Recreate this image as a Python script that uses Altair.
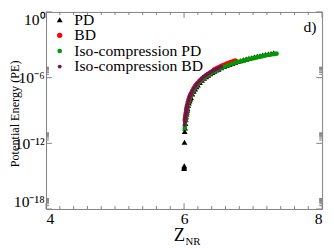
import altair as alt
import pandas as pd

# ---- data: Z_NR and log10(PE) ----
series_names = ["PD", "BD", "Iso-compression PD", "Iso-compression BD"]
series_colors = ["#000000", "#ff0000", "#009a00", "#6e1450"]
series_shapes = ["triangle-up", "circle", "circle", "circle"]
series_sizes = [36, 16, 16, 16]

pd_z = [6.000, 6.002, 6.003, 6.006, 6.009, 6.015, 6.020, 6.025, 6.030, 6.035, 6.040, 6.045,
        6.050, 6.060, 6.070, 6.080, 6.090, 6.100, 6.120, 6.140, 6.160, 6.180, 6.200, 6.230,
        6.260, 6.290, 6.320, 6.350, 6.380, 6.410, 6.440, 6.470, 6.500, 6.540, 6.580, 6.620,
        6.660, 6.700, 6.740, 6.780, 6.820, 6.860, 6.900, 6.940, 6.980, 7.020, 7.060, 7.100,
        7.140, 7.180, 7.220, 7.260, 7.300]
pd_log = [-14.30, -14.15, -14.05, -11.90, -10.92, -10.60, -10.18, -9.85, -9.58, -9.35, -9.15, -8.98,
          -8.83, -8.55, -8.32, -8.12, -7.95, -7.80, -7.50, -7.25, -7.03, -6.84, -6.67, -6.44,
          -6.23, -6.06, -5.91, -5.77, -5.64, -5.52, -5.41, -5.31, -5.22, -5.10, -4.99, -4.89,
          -4.79, -4.70, -4.61, -4.53, -4.45, -4.38, -4.31, -4.24, -4.18, -4.12, -4.06, -4.00,
          -3.94, -3.89, -3.84, -3.79, -3.74]

bd_z = [6.016, 6.020, 6.025, 6.030, 6.035, 6.040, 6.045, 6.050, 6.060, 6.070, 6.080, 6.090,
        6.100, 6.120, 6.140, 6.160, 6.180, 6.200, 6.230, 6.260, 6.290, 6.320, 6.350, 6.380,
        6.410, 6.440, 6.470, 6.500, 6.530, 6.560, 6.590, 6.620, 6.650, 6.680, 6.710, 6.740]
bd_log = [-9.86, -9.68, -9.44, -9.22, -9.01, -8.83, -8.67, -8.52, -8.25, -8.02, -7.83, -7.66,
          -7.51, -7.25, -7.02, -6.83, -6.66, -6.50, -6.30, -6.12, -5.96, -5.82, -5.69, -5.57,
          -5.46, -5.28, -5.18, -5.09, -5.00, -4.91, -4.83, -4.75, -4.67, -4.60, -4.53, -4.47]

ipd_z = [6.010, 6.015, 6.020, 6.025, 6.030, 6.035, 6.040, 6.045, 6.050, 6.060, 6.070, 6.080,
         6.090, 6.100, 6.120, 6.140, 6.160, 6.180, 6.200, 6.230, 6.260, 6.290, 6.320, 6.350,
         6.380, 6.410, 6.440, 6.470, 6.500, 6.540, 6.580, 6.620, 6.660, 6.700, 6.740, 6.780,
         6.820, 6.860, 6.900, 6.940, 6.980, 7.020, 7.060, 7.100, 7.140, 7.180, 7.220, 7.260,
         7.300, 7.340]
ipd_log = [-10.60, -10.33, -9.92, -9.59, -9.32, -9.09, -8.89, -8.72, -8.57, -8.30, -8.07, -7.87,
           -7.70, -7.55, -7.29, -7.06, -6.87, -6.70, -6.54, -6.34, -6.16, -6.01, -5.86, -5.73,
           -5.61, -5.50, -5.40, -5.31, -5.22, -5.11, -5.01, -4.91, -4.82, -4.73, -4.65, -4.57,
           -4.50, -4.43, -4.37, -4.31, -4.25, -4.19, -4.13, -4.08, -4.03, -3.98, -3.93, -3.89,
           -3.85, -3.81]

ibd_z = [6.008, 6.012, 6.016, 6.020, 6.025, 6.030, 6.035, 6.040, 6.045, 6.050, 6.060, 6.070,
         6.080, 6.090, 6.100, 6.120, 6.140, 6.160, 6.180, 6.200, 6.230, 6.260, 6.290, 6.320,
         6.350, 6.380, 6.410, 6.440, 6.470, 6.500, 6.540]
ibd_log = [-10.30, -10.05, -9.80, -9.62, -9.38, -9.16, -8.95, -8.77, -8.61, -8.46, -8.19, -7.96,
           -7.77, -7.60, -7.45, -7.19, -6.96, -6.77, -6.60, -6.44, -6.24, -6.06, -5.90, -5.76,
           -5.63, -5.51, -5.40, -5.30, -5.21, -5.12, -5.01]

# axis ticks
x_major = [4, 6, 8]
x_minor = [4.2, 4.4, 4.6, 4.8, 5.0, 5.2, 5.4, 5.6, 5.8, 6.2, 6.4, 6.6, 6.8, 7.0, 7.2, 7.4, 7.6, 7.8]
y_major = [1e-18, 1e-12, 1e-6, 1.0]
y_minor = [2e-18, 3e-18, 4e-18, 5e-18, 6e-18, 7e-18, 8e-18, 9e-18,
           2e-12, 3e-12, 4e-12, 5e-12, 6e-12, 7e-12, 8e-12, 9e-12,
           2e-6, 3e-6, 4e-6, 5e-6, 6e-6, 7e-6, 8e-6, 9e-6]

rows = []
for name, zs, ls in [("PD", pd_z, pd_log), ("BD", bd_z, bd_log),
                     ("Iso-compression PD", ipd_z, ipd_log),
                     ("Iso-compression BD", ibd_z, ibd_log)]:
    for z, l in zip(zs, ls):
        rows.append({"series": name, "z": z, "pe": 10 ** l})
df = pd.DataFrame(rows)

W, H = 283, 202
FONT = "Liberation Serif"
TC = "#808080"

xs = alt.Scale(domain=[4, 8], nice=False, zero=False)
ys = alt.Scale(type="log", domain=[1e-18, 1], nice=False)

points = alt.Chart(df).mark_point(filled=True, opacity=1, strokeWidth=0).encode(
    x=alt.X("z:Q", scale=xs, axis=alt.Axis(values=x_major, title=None, ticks=False, domain=False,
                                           grid=False, labelFont=FONT, labelFontSize=16,
                                           labelColor="black", labelPadding=2, format="d")),
    y=alt.Y("pe:Q", scale=ys, axis=alt.Axis(
        values=y_major, ticks=False, domain=False, grid=False, labelFont=FONT, labelFontSize=16,
        labelColor="black", labelPadding=2, labelFlush=True,
        labelExpr="datum.value > 0.1 ? '10⁰' : datum.value > 1e-7 ? '10⁻⁶' : datum.value > 1e-13 ? '10⁻¹²' : '10⁻¹⁸'",
        title="Potential Energy (PE)", titleFont=FONT, titleFontSize=12.5, titleFontWeight="normal",
        titleColor="black", titleX=-25, titleY=104)),
    color=alt.Color("series:N", scale=alt.Scale(domain=series_names, range=series_colors),
                    legend=alt.Legend(title=None)),
    shape=alt.Shape("series:N", scale=alt.Scale(domain=series_names, range=series_shapes),
                    legend=alt.Legend(title=None)),
    size=alt.Size("series:N", scale=alt.Scale(domain=series_names, range=series_sizes),
                  legend=alt.Legend(title=None)),
)

def xticks(vals, length, top):
    d = pd.DataFrame({"z": vals})
    if top:
        enc = dict(y=alt.value(0), y2=alt.value(length))
    else:
        enc = dict(y=alt.value(H), y2=alt.value(H - length))
    return alt.Chart(d).mark_rule(color=TC, strokeWidth=1).encode(x=alt.X("z:Q", scale=xs), **enc)

def yticks(vals, length, right):
    d = pd.DataFrame({"pe": vals})
    if right:
        enc = dict(x=alt.value(W - length), x2=alt.value(W))
    else:
        enc = dict(x=alt.value(0), x2=alt.value(length))
    return alt.Chart(d).mark_rule(color=TC, strokeWidth=1).encode(y=alt.Y("pe:Q", scale=ys), **enc)

tick_layers = [
    xticks(x_major, 6, False), xticks(x_minor, 3, False),
    xticks(x_major, 6, True), xticks(x_minor, 3, True),
    yticks(y_major, 6, False), yticks(y_minor, 3, False),
    yticks(y_major, 6, True), yticks(y_minor, 3, True),
]

def label(text, px, py, size):
    return alt.Chart(pd.DataFrame({"t": [text]})).mark_text(
        font=FONT, fontSize=size, color="black", align="left", baseline="alphabetic"
    ).encode(x=alt.value(px), y=alt.value(py), text="t:N")

z_title = label("Z", 131, 235, 19)
nr_sub = label("NR", 143, 239, 11)
d_label = label("d)", 264, 21, 16)

chart = alt.layer(*tick_layers, points, z_title, nr_sub, d_label).properties(
    width=W, height=H,
    padding={"left": 39, "top": 1, "right": 4, "bottom": 40},
    autosize=alt.AutoSizeParams(type="none"),
).configure_view(stroke=TC, strokeWidth=1).configure_legend(
    orient="none", legendX=6, legendY=0, labelFont=FONT, labelFontSize=16, labelColor="black",
    rowPadding=0, labelOffset=7, padding=0, symbolStrokeWidth=0,
)

chart.save("out.html", embed_options={"renderer": "svg", "actions": False})
